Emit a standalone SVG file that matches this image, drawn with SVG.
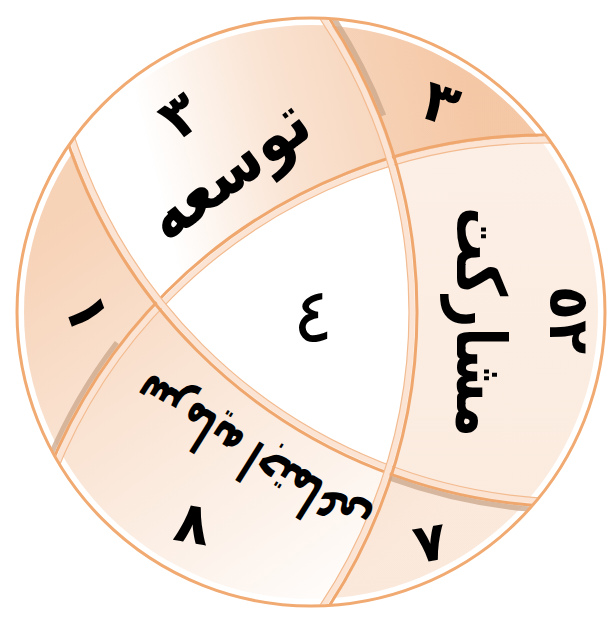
<svg xmlns="http://www.w3.org/2000/svg" width="610" height="618" viewBox="0 0 610 618">
<style>
.w{font-family:"DejaVu Sans",sans-serif;font-weight:bold;fill:#000;text-anchor:middle}
.d{font-family:"DejaVu Sans",sans-serif;font-weight:bold;fill:#000;text-anchor:middle}
.lens{fill-rule:evenodd}
.arcband{fill:none;stroke:#fbe4d4;stroke-width:6}
.arcline{fill:none;stroke:#efa76e;stroke-width:3}
.arcedge{fill:none;stroke:#f3bb90;stroke-width:1.2}
.shade{fill:none;stroke:#c9a68a;stroke-width:5;stroke-opacity:0.75}
</style>
<defs>
<clipPath id="inner"><circle cx="311" cy="312" r="287"/></clipPath>
<clipPath id="outer"><circle cx="311" cy="312" r="293"/></clipPath>
<linearGradient id="gT" gradientUnits="userSpaceOnUse" x1="480" y1="120" x2="160" y2="200">
<stop offset="0" stop-color="#f2ba90" stop-opacity="0.75"/><stop offset="0.6" stop-color="#f2ba90" stop-opacity="0.4"/><stop offset="1" stop-color="#f2ba90" stop-opacity="0"/></linearGradient>
<linearGradient id="gB" gradientUnits="userSpaceOnUse" x1="60" y1="220" x2="330" y2="600">
<stop offset="0" stop-color="#f2ba90" stop-opacity="0.65"/><stop offset="1" stop-color="#f2ba90" stop-opacity="0.04"/></linearGradient>
<linearGradient id="gR" gradientUnits="userSpaceOnUse" x1="450" y1="60" x2="470" y2="600">
<stop offset="0" stop-color="#f2ba90" stop-opacity="0.22"/><stop offset="1" stop-color="#f2ba90" stop-opacity="0.3"/></linearGradient>
</defs>
<rect width="610" height="618" fill="#fff"/>
<g id="regions" clip-path="url(#inner)">
<path id="lensT" class="lens" fill="url(#gT)" d="M0 0H610V618H0Z M12 670a533 533 0 1 0 1066 0a533 533 0 1 0 -1066 0Z"/>
<path id="lensB" class="lens" fill="url(#gB)" d="M0 0H610V618H0Z M42 -28a533 533 0 1 0 1066 0a533 533 0 1 0 -1066 0Z"/>
<path id="lensR" class="lens" fill="url(#gR)" d="M0 0H610V618H0Z M-651 312a533 533 0 1 0 1066 0a533 533 0 1 0 -1066 0Z"/>
</g>
<g id="connectors" clip-path="url(#outer)">
<circle class="arcband" cx="545" cy="670" r="530"/>
<circle class="arcline" cx="545" cy="670" r="535"/>
<circle class="arcedge" cx="545" cy="670" r="527"/>
<circle class="arcband" cx="575" cy="-28" r="530"/>
<circle class="arcline" cx="575" cy="-28" r="535"/>
<circle class="arcedge" cx="575" cy="-28" r="527"/>
<circle class="arcband" cx="-118" cy="312" r="530"/>
<circle class="arcline" cx="-118" cy="312" r="535"/>
<circle class="arcedge" cx="-118" cy="312" r="527"/>
<path class="shade" d="M48.8 459.4A539 539 0 0 1 116.8 342.6"/>
<path class="shade" d="M328.9 10.6A539 539 0 0 1 383.8 115.3"/>
<path class="shade" d="M389.8 478.2A539 539 0 0 0 546.8 510.3"/>
</g>
<g id="outline"><circle cx="311" cy="312" r="294" fill="none" stroke="#f0aa72" stroke-width="3"/></g>
<g id="node-tosee">
<text class="w" font-size="70" transform="translate(245 178) rotate(-37)" x="-9" y="6" textLength="185" lengthAdjust="spacingAndGlyphs">توسعه</text>
<text class="d" font-size="58" transform="translate(180 115) rotate(-37)" x="0" y="20">٣</text>
</g>
<g id="node-mosharekat">
<text class="w" font-size="68" transform="translate(472 322) rotate(90)" x="0" y="15" textLength="230" lengthAdjust="spacingAndGlyphs">مشارکت</text>
<text class="d" font-size="56" transform="translate(570 320) rotate(90)" x="0" y="20">٥٢</text>
</g>
<g id="node-sarmaye">
<text class="w" font-size="44" transform="translate(262 448) rotate(212) scale(0.74 1.36)" x="5" y="3">سرمایه اجتماعی</text>
<text class="d" font-size="58" transform="translate(193 523) rotate(10)" x="0" y="20">٨</text>
</g>
<g id="node-tr"><text class="d" font-size="58" transform="translate(441 103) rotate(18)" x="0" y="20">٣</text></g>
<g id="node-left"><text class="d" font-size="58" transform="translate(88 313) rotate(70)" x="0" y="20">١</text></g>
<g id="node-br"><text class="d" font-size="54" transform="translate(430 542) rotate(-10)" x="0" y="19">٧</text></g>
<g id="node-center"><text class="d" font-size="76" style="font-weight:normal" transform="translate(313 315)" x="0" y="26">٤</text></g>
</svg>
